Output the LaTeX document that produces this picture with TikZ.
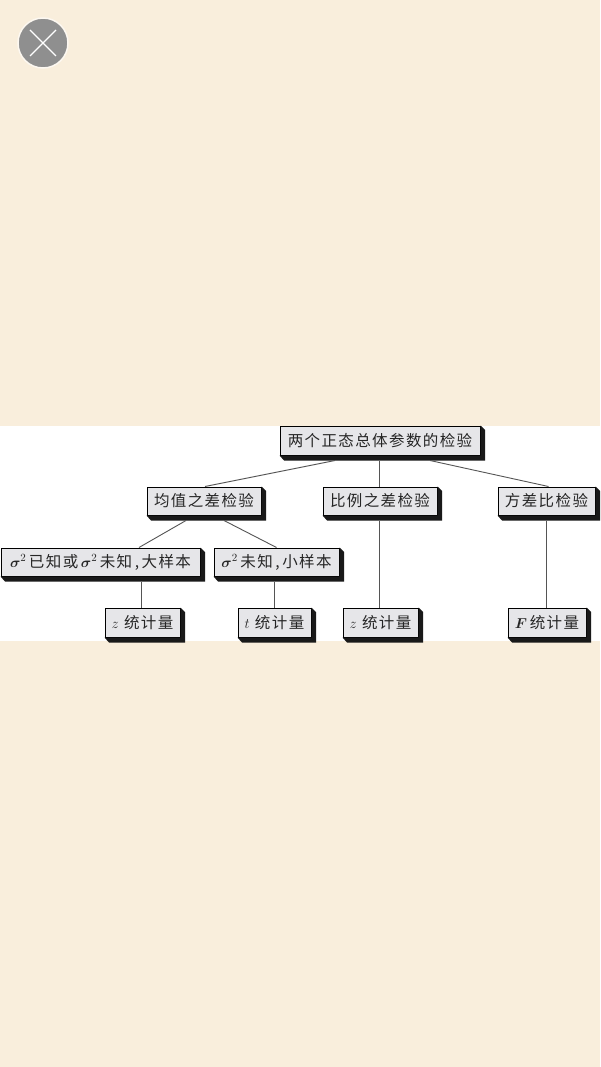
\documentclass[tikz,border=0pt]{standalone}
\usepackage{fontspec}
\usepackage{bm}
\newfontfamily\cjk[LetterSpace=9]{Noto Sans CJK SC}
\definecolor{pagebg}{HTML}{F9EEDC}
\definecolor{boxfill}{HTML}{E6E6E9}
\definecolor{iconfill}{HTML}{8F8F8F}
\definecolor{linkgray}{HTML}{555555}
\tikzset{
  x=1pt,y=-1pt,
  boxnode/.style={draw=black,line width=1pt,fill=boxfill,inner sep=0pt,font=\fontsize{15.5}{17}\selectfont\cjk,text=black!85,anchor=center},
  link/.style={draw=linkgray,line width=0.9pt},
  extrude/.style={fill=black!90}
}
\begin{document}
\begin{tikzpicture}
\useasboundingbox (0,0) rectangle (600,1067);
\fill[pagebg] (0,0) rectangle (600,1067);
\fill[white] (0,426) rectangle (600,641);
% close icon
\fill[iconfill,draw=pagebg!40!white,line width=1.5pt] (43,43) circle (25);
\draw[white,line width=1.3pt] (30,30) -- (56,56) (56,30) -- (30,56);
% boxes
\node[boxnode,minimum width=200pt,minimum height=29pt] (root) at (380,440.5) {两个正态总体参数的检验};
\node[boxnode,minimum width=114pt,minimum height=28pt] (mean) at (204,501) {均值之差检验};
\node[boxnode,minimum width=114pt,minimum height=28pt] (prop) at (380,501) {比例之差检验};
\node[boxnode,minimum width=97pt,minimum height=28pt] (var) at (546.5,501) {方差比检验};
\node[boxnode,minimum width=199pt,minimum height=28pt] (known) at (100.5,562) {$\bm{\sigma}^2$\,已知或\,$\bm{\sigma}^2$\,未知\,,\,大样本};
\node[boxnode,minimum width=125pt,minimum height=28pt] (unknown) at (276.5,562) {$\bm{\sigma}^2$\,未知\,,\,小样本};
\node[boxnode,minimum width=75pt,minimum height=29pt] (zone) at (142.5,622.5) {$z$\,\,统计量};
\node[boxnode,minimum width=73pt,minimum height=29pt] (tstat) at (274.5,622.5) {$t$\,\,统计量};
\node[boxnode,minimum width=75pt,minimum height=29pt] (ztwo) at (380.5,622.5) {$z$\,\,统计量};
\node[boxnode,minimum width=78pt,minimum height=29pt] (fstat) at (547,622.5) {$\bm{F}$\,统计量};
% extruded shadows
\foreach \n in {root,mean,prop,var,known,unknown,zone,tstat,ztwo,fstat}
  \fill[extrude] (\n.north east) -- ++(4.5,4.5) -- ([shift={(4.5,5)}]\n.south east) -- ([shift={(4.5,5)}]\n.south west) -- (\n.south west) -- (\n.south east) -- cycle;
% connectors
\draw[link] ([xshift=-45pt,yshift=-5pt]root.south) -- ([xshift=1pt]mean.north);
\draw[link] ([xshift=-0.5pt,yshift=-5pt]root.south) -- ([xshift=-0.5pt]prop.north);
\draw[link] ([xshift=50pt,yshift=-5pt]root.south) -- ([xshift=2pt]var.north);
\draw[link] ([xshift=-18pt,yshift=-5pt]mean.south) -- ([xshift=38.5pt]known.north);
\draw[link] ([xshift=20pt,yshift=-5pt]mean.south) -- (unknown.north);
\draw[link] ([xshift=40.5pt,yshift=-5pt]known.south) -- ([xshift=-1.5pt]zone.north);
\draw[link] ([xshift=-2.5pt,yshift=-5pt]unknown.south) -- ([xshift=-0.5pt]tstat.north);
\draw[link] ([xshift=-0.5pt,yshift=-5pt]prop.south) -- ([xshift=-1pt]ztwo.north);
\draw[link] ([yshift=-5pt]var.south) -- ([xshift=-0.5pt]fstat.north);
\end{tikzpicture}
\end{document}
